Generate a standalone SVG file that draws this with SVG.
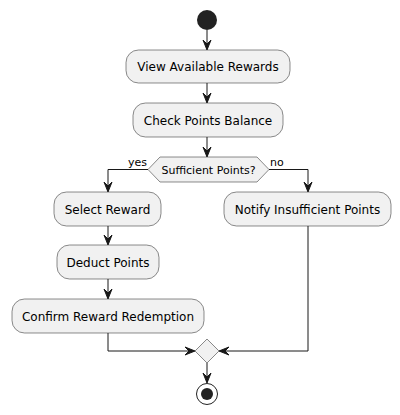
<svg xmlns="http://www.w3.org/2000/svg" width="400" height="415" viewBox="0 0 400 415">
<style>
.act{fill:#F1F1F1;stroke:#181818;stroke-width:0.5}
.t{font-family:"DejaVu Sans",sans-serif;font-size:12px;fill:#000;text-anchor:middle}
.s{font-family:"DejaVu Sans",sans-serif;font-size:11px;fill:#000}
.ln{fill:none;stroke:#181818;stroke-width:1}
.ah{fill:#181818;stroke:#181818;stroke-width:1}
</style>
<rect width="400" height="415" fill="#FFFFFF"/>
<g id="start"><circle cx="207" cy="20" r="10" fill="#222222"/></g>
<g id="view"><rect class="act" x="126" y="50" width="164" height="33" rx="12.5"/><text class="t" x="208" y="71">View Available Rewards</text></g>
<g id="check"><rect class="act" x="133" y="103" width="150" height="34" rx="12.5"/><text class="t" x="208" y="124.5">Check Points Balance</text></g>
<g id="decision"><polygon class="act" points="148,169.5 160,157 257,157 269,169.5 257,182 160,182"/><text class="s" x="208.5" y="173.5" text-anchor="middle">Sufficient Points?</text></g>
<g id="select"><rect class="act" x="54" y="192" width="107" height="34" rx="12.5"/><text class="t" x="107.5" y="213.5">Select Reward</text></g>
<g id="notify"><rect class="act" x="224" y="192" width="167" height="34" rx="12.5"/><text class="t" x="307.5" y="213.5">Notify Insufficient Points</text></g>
<g id="deduct"><rect class="act" x="57" y="245" width="102" height="34" rx="12.5"/><text class="t" x="108" y="266.5">Deduct Points</text></g>
<g id="confirm"><rect class="act" x="12" y="299" width="192" height="34" rx="12.5"/><text class="t" x="108" y="320.5">Confirm Reward Redemption</text></g>
<g id="merge"><polygon class="act" points="207,339 219,351 207,363 195,351"/></g>
<g id="end"><circle cx="207" cy="394" r="10.5" fill="none" stroke="#222222" stroke-width="1"/><circle cx="207" cy="394" r="6" fill="#222222"/></g>
<g id="connectors">
<line class="ln" x1="207" y1="30" x2="207" y2="49"/><polygon class="ah" points="203,40 207,50 211,40 207,44"/>
<line class="ln" x1="207" y1="83" x2="207" y2="102"/><polygon class="ah" points="203,93 207,103 211,93 207,97"/>
<line class="ln" x1="207" y1="137" x2="207" y2="156"/><polygon class="ah" points="203,147 207,157 211,147 207,151"/>
<polyline class="ln" points="148,169.5 108,169.5 108,191"/><polygon class="ah" points="104,182 108,192 112,182 108,186"/>
<text class="s" x="128" y="166">yes</text>
<polyline class="ln" points="269,169.5 308,169.5 308,191"/><polygon class="ah" points="304,182 308,192 312,182 308,186"/>
<text class="s" x="270" y="166">no</text>
<line class="ln" x1="108" y1="226" x2="108" y2="244"/><polygon class="ah" points="104,235 108,245 112,235 108,239"/>
<line class="ln" x1="108" y1="279" x2="108" y2="298"/><polygon class="ah" points="104,289 108,299 112,289 108,293"/>
<polyline class="ln" points="108,333 108,351 194,351"/><polygon class="ah" points="185,347 195,351 185,355 189,351"/>
<polyline class="ln" points="308,226 308,351 220,351"/><polygon class="ah" points="229,347 219,351 229,355 225,351"/>
<line class="ln" x1="207" y1="363" x2="207" y2="382"/><polygon class="ah" points="203,373 207,383 211,373 207,377"/>
</g>
</svg>
